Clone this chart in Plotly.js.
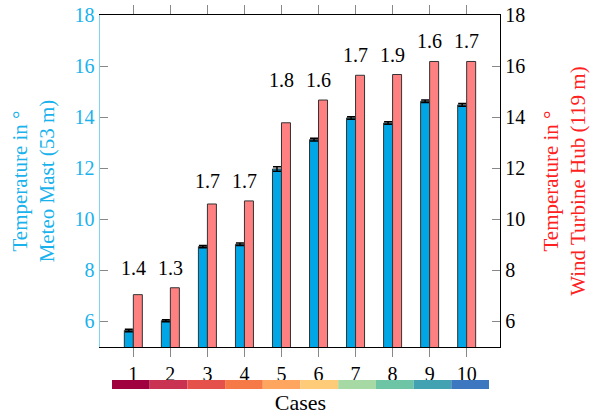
<!DOCTYPE html>
<html>
<head>
<meta charset="utf-8">
<script src="https://cdn.plot.ly/plotly-3.0.1.min.js"></script>
<style>html,body{margin:0;padding:0;background:#fff;}#chart{width:590px;height:415px;}</style>
</head>
<body>
<div id="chart"></div>
<script>
// Data
var cases = [1, 2, 3, 4, 5, 6, 7, 8, 9, 10];
var caseLabels = ["1", "2", "3", "4", "5", "6", "7", "8", "9", "10"];
var meteoMast = [5.65, 6.03, 8.93, 9.02, 11.97, 13.12, 13.97, 13.77, 14.62, 14.48];
var meteoErr = [0.05, 0.04, 0.04, 0.05, 0.09, 0.05, 0.05, 0.05, 0.05, 0.05];
var turbineHub = [7.05, 7.32, 10.60, 10.72, 13.78, 14.67, 15.64, 15.67, 16.18, 16.18];
var diffLabels = ["1.4", "1.3", "1.7", "1.7", "1.8", "1.6", "1.7", "1.9", "1.6", "1.7"];
var caseColors = ["#a0013f", "#c93250", "#e5514b", "#f57a47", "#fea660", "#fecb79", "#a6d9a4", "#6ec5a5", "#42a2b2", "#3c77bf"];
var colorBand = [1, 1, 1, 1, 1, 1, 1, 1, 1, 1];

var blue = "#00a6e6";
var red = "#ff8080";
var font = "Liberation Serif";

var traces = [
  {
    type: "bar", x: cases, y: meteoMast, xaxis: "x", yaxis: "y",
    width: 0.243, offset: -0.243,
    marker: {color: blue, line: {color: "#333", width: 1}},
    error_y: {type: "data", array: meteoErr, visible: true, color: "#000", thickness: 1.5, width: 4},
    hoverinfo: "x+y", showlegend: false
  },
  {
    type: "bar", x: cases, y: turbineHub, xaxis: "x", yaxis: "y2",
    width: 0.243, offset: 0,
    marker: {color: red, line: {color: "#333", width: 1}},
    hoverinfo: "x+y", showlegend: false
  },
  {
    type: "bar", x: cases, y: colorBand, xaxis: "x2", yaxis: "y3",
    width: 1, marker: {color: caseColors, line: {width: 0}},
    hoverinfo: "x", showlegend: false
  }
];

// label heights: pairs of cases share the higher of their hub values
var labelAnnotations = [];
for (var i = 0; i < cases.length; i++) {
  var k = (i % 2 === 0) ? i + 1 : i - 1;
  var pairMax = Math.max(turbineHub[i], turbineHub[k]);
  labelAnnotations.push({
    x: cases[i], y: pairMax, xref: "x", yref: "y2",
    text: diffLabels[i], showarrow: false,
    yanchor: "bottom", yshift: 7,
    font: {family: font, size: 20, color: "#000"}
  });
}

var layout = {
  width: 590, height: 415,
  margin: {l: 100, r: 90, t: 15, b: 20},
  paper_bgcolor: "#fff", plot_bgcolor: "#fff",
  barmode: "overlay",
  showlegend: false,
  font: {family: font, size: 20, color: "#000"},
  xaxis: {
    domain: [0, 1], anchor: "y",
    range: [0.1, 10.9],
    tickvals: cases, ticktext: caseLabels,
    ticks: "outside", ticklen: 9, tickcolor: "#888", tickwidth: 1,
    showline: true, linecolor: "#000", linewidth: 1.2, mirror: "ticks",
    showgrid: false, zeroline: false,
    tickfont: {family: font, size: 20, color: "#000"}
  },
  yaxis: {
    domain: [0.1263, 1], anchor: "x",
    range: [5, 18], tickvals: [6, 8, 10, 12, 14, 16, 18],
    ticks: "inside", ticklen: 8, tickcolor: "#888",
    showline: true, linecolor: "#7fd3f3", linewidth: 1.5,
    showgrid: false, zeroline: false,
    tickfont: {family: font, size: 20, color: "#1ab2ec"},
    title: {text: "Temperature in °<br>Meteo Mast (53 m)", standoff: 14,
            font: {family: font, size: 21, color: "#1ab2ec"}}
  },
  yaxis2: {
    overlaying: "y", side: "right", anchor: "x",
    range: [5, 18], tickvals: [6, 8, 10, 12, 14, 16, 18],
    ticks: "inside", ticklen: 8, tickcolor: "#888",
    showline: true, linecolor: "#000", linewidth: 1.2,
    showgrid: false, zeroline: false,
    tickfont: {family: font, size: 20, color: "#000"},
    title: {text: "Temperature in °<br>Wind Turbine Hub (119 m)", standoff: 20,
            font: {family: font, size: 21, color: "#ff2020"}}
  },
  xaxis2: {
    domain: [0.03, 0.9725], anchor: "y3",
    range: [0.5, 10.5],
    showticklabels: false, ticks: "", showline: false, showgrid: false, zeroline: false,
    title: {text: "Cases", standoff: 6, font: {family: font, size: 22, color: "#000"}}
  },
  yaxis3: {
    domain: [0.0158, 0.0395], anchor: "x2",
    range: [0, 1], visible: false, fixedrange: true
  },
  annotations: labelAnnotations
};

Plotly.newPlot("chart", traces, layout, {displayModeBar: false, staticPlot: true});
</script>
</body>
</html>
